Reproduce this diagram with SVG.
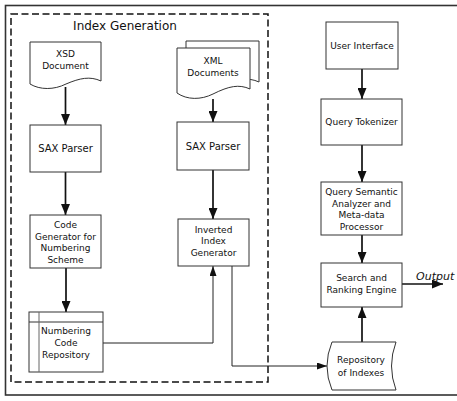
<svg xmlns="http://www.w3.org/2000/svg" width="457" height="401" viewBox="0 0 457 401">
<defs>
<style>
.box{fill:#fff;stroke:#333;stroke-width:1}
.t{font-family:"DejaVu Sans",Verdana,sans-serif;font-size:9px;fill:#111;text-anchor:middle}
.c{fill:none;stroke:#111;stroke-width:1.7}
.cn{fill:none;stroke:#222;stroke-width:1}
</style>
<marker id="ah" markerUnits="userSpaceOnUse" markerWidth="11" markerHeight="9" refX="11" refY="4.5" orient="auto">
<path d="M0,0 L11,4.5 L0,9 Z" fill="#111"/>
</marker>
<marker id="as" markerUnits="userSpaceOnUse" markerWidth="10" markerHeight="7" refX="10" refY="3.5" orient="auto">
<path d="M0,0 L10,3.5 L0,7 Z" fill="#111"/>
</marker>
</defs>
<rect width="457" height="401" fill="#fff"/>
<rect x="5.5" y="5.5" width="460" height="389.5" fill="none" stroke="#333" stroke-width="1.6"/>
<g id="index-generation">
<rect x="11" y="14" width="257" height="368" fill="none" stroke="#111" stroke-width="1.5" stroke-dasharray="7 3.5"/>
<text x="125" y="30" class="t" style="font-size:12px">Index Generation</text>
</g>
<g id="connectors">
<line class="c" x1="65.5" y1="87" x2="65.5" y2="125" marker-end="url(#ah)"/>
<line class="c" x1="65.5" y1="172" x2="65.5" y2="215" marker-end="url(#ah)"/>
<line class="c" x1="66" y1="268" x2="66" y2="312" marker-end="url(#ah)"/>
<line class="c" x1="213" y1="99" x2="213" y2="122" marker-end="url(#ah)"/>
<line class="c" x1="213" y1="170" x2="213" y2="219" marker-end="url(#ah)"/>
<polyline class="cn" points="103,343 213,343 213,266" marker-end="url(#as)"/>
<polyline class="cn" points="232,266 232,366 327,366" marker-end="url(#as)"/>
<line class="c" x1="362" y1="69" x2="362" y2="99" marker-end="url(#ah)"/>
<line class="c" x1="362" y1="145" x2="362" y2="182" marker-end="url(#ah)"/>
<line class="c" x1="362" y1="235" x2="362" y2="263" marker-end="url(#ah)"/>
<line class="c" x1="362" y1="342" x2="362" y2="307" marker-end="url(#ah)"/>
<line class="c" x1="402" y1="284" x2="443" y2="284" marker-end="url(#ah)"/>
<text x="416" y="280" style="font-family:'DejaVu Sans',Verdana,sans-serif;font-size:11px;font-style:italic;fill:#111">Output</text>
</g>
<g id="xsd-document">
<path class="box" d="M30,42 H101 V81 C90,76 80,78 66,84 C54,90 40,90 30,84 Z"/>
<text class="t" x="65.5" y="57">XSD</text>
<text class="t" x="65.5" y="68.5">Document</text>
</g>
<g id="sax-parser-1">
<rect class="box" x="30" y="125" width="71" height="47"/>
<text class="t" x="65.5" y="151.5" style="font-size:10px">SAX Parser</text>
</g>
<g id="code-generator">
<rect class="box" x="30" y="215" width="71" height="53"/>
<text class="t" x="65.5" y="228">Code</text>
<text class="t" x="65.5" y="239.5">Generator for</text>
<text class="t" x="65.5" y="251">Numbering</text>
<text class="t" x="65.5" y="262.5">Scheme</text>
</g>
<g id="numbering-code-repository">
<rect class="box" x="29" y="312" width="74" height="60"/>
<line x1="29" y1="322" x2="103" y2="322" stroke="#333" stroke-width="1"/>
<line x1="39" y1="312" x2="39" y2="372" stroke="#666" stroke-width="1"/>
<text class="t" x="66" y="333.5">Numbering</text>
<text class="t" x="66" y="345.5">Code</text>
<text class="t" x="66" y="357.5">Repository</text>
</g>
<g id="xml-documents">
<path class="box" d="M186,41 H259 V82 C248,77 238,79 222,86 C210,92 196,92 186,86 Z"/>
<path class="box" d="M177,48 H250 V89 C239,84 229,86 213,94 C201,100 187,100 177,93 Z"/>
<text class="t" x="213" y="64">XML</text>
<text class="t" x="213" y="76">Documents</text>
</g>
<g id="sax-parser-2">
<rect class="box" x="177" y="122" width="72" height="48"/>
<text class="t" x="213" y="149.5" style="font-size:10px">SAX Parser</text>
</g>
<g id="inverted-index-generator">
<rect class="box" x="178" y="219" width="71" height="47"/>
<text class="t" x="213.5" y="232.5">Inverted</text>
<text class="t" x="213.5" y="244.3">Index</text>
<text class="t" x="213.5" y="256">Generator</text>
</g>
<g id="user-interface">
<rect class="box" x="326" y="22" width="72" height="47"/>
<text class="t" x="362" y="48.5">User Interface</text>
</g>
<g id="query-tokenizer">
<rect class="box" x="321" y="99" width="81" height="46"/>
<text class="t" x="361.5" y="125">Query Tokenizer</text>
</g>
<g id="query-semantic-analyzer">
<rect class="box" x="321" y="182" width="81" height="53"/>
<text class="t" x="361.5" y="195">Query Semantic</text>
<text class="t" x="361.5" y="206.7">Analyzer and</text>
<text class="t" x="361.5" y="218.3">Meta-data</text>
<text class="t" x="361.5" y="230">Processor</text>
</g>
<g id="search-ranking-engine">
<rect class="box" x="321" y="263" width="81" height="44"/>
<text class="t" x="361.5" y="281">Search and</text>
<text class="t" x="361.5" y="293">Ranking Engine</text>
</g>
<g id="repository-of-indexes">
<path class="box" d="M332,342 H396 Q387,366 396,390 H332 Q322,366 332,342 Z"/>
<text class="t" x="361" y="363">Repository</text>
<text class="t" x="361" y="376">of Indexes</text>
</g>
</svg>
